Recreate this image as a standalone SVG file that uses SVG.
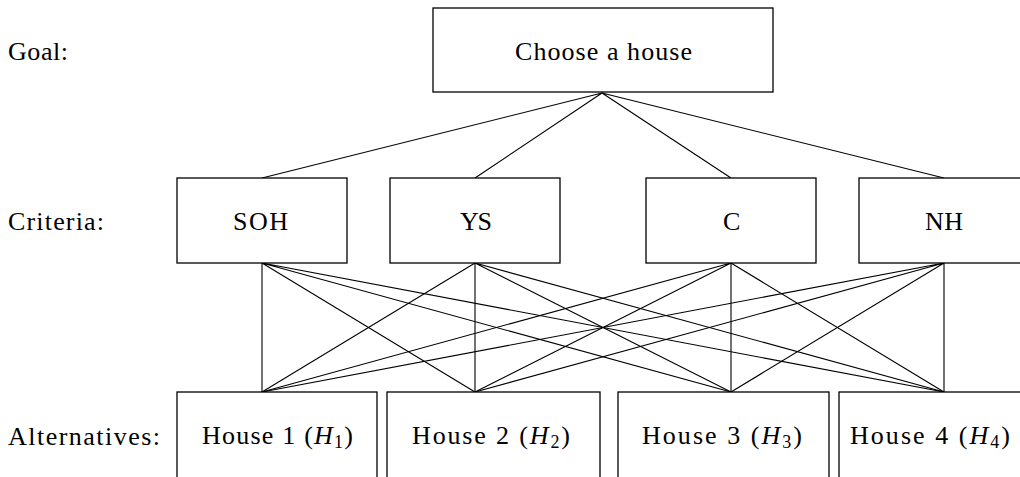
<svg xmlns="http://www.w3.org/2000/svg" width="1020" height="477" viewBox="0 0 1020 477">
  <style>
    .box { fill: #fff; stroke: #000; stroke-width: 1.3; }
    .edge { stroke: #000; stroke-width: 1.1; fill: none; }
    text { font-family: "Liberation Serif", "DejaVu Serif", serif; font-size: 26px; fill: #000; }
    .i { font-style: italic; }
    .sub { font-size: 18px; }
  </style>
  <rect width="1020" height="477" fill="#fff"/>

  <!-- level labels -->
  <g id="labels">
    <text x="8" y="60" textLength="60">Goal:</text>
    <text x="8" y="230" textLength="96">Criteria:</text>
    <text x="8" y="445" textLength="152">Alternatives:</text>
  </g>

  <!-- connectors -->
  <g id="connectors" class="edge">
    <!-- goal to criteria -->
    <path d="M602 93 L262 178 M602 93 L475 178 M602 93 L731 178 M602 93 L944 178"/>
    <!-- criteria to alternatives -->
    <path d="M262 263 L262 392 M262 263 L475 392 M262 263 L731 392 M262 263 L944 392"/>
    <path d="M475 263 L262 392 M475 263 L475 392 M475 263 L731 392 M475 263 L944 392"/>
    <path d="M731 263 L262 392 M731 263 L475 392 M731 263 L731 392 M731 263 L944 392"/>
    <path d="M944 263 L262 392 M944 263 L475 392 M944 263 L731 392 M944 263 L944 392"/>
  </g>

  <g id="goal">
    <rect class="box" x="433" y="8" width="340" height="84"/>
    <text x="515" y="60" textLength="177">Choose a house</text>
  </g>

  <g id="crit-soh">
    <rect class="box" x="177" y="178" width="170" height="85"/>
    <text x="233" y="230" textLength="55">SOH</text>
  </g>
  <g id="crit-ys">
    <rect class="box" x="390" y="178" width="170" height="85"/>
    <text x="460" y="230" textLength="32">YS</text>
  </g>
  <g id="crit-c">
    <rect class="box" x="646" y="178" width="170" height="85"/>
    <text x="723" y="230" textLength="17">C</text>
  </g>
  <g id="crit-nh">
    <rect class="box" x="859" y="178" width="170" height="85"/>
    <text x="925" y="230" textLength="38">NH</text>
  </g>

  <g id="alt-h1">
    <rect class="box" x="177" y="392" width="200" height="110"/>
    <text x="202" y="444" textLength="151">House 1 (<tspan class="i">H</tspan><tspan class="sub" dy="4">1</tspan><tspan dy="-4">)</tspan></text>
  </g>
  <g id="alt-h2">
    <rect class="box" x="387" y="392" width="213" height="110"/>
    <text x="412" y="444" textLength="158">House 2 (<tspan class="i">H</tspan><tspan class="sub" dy="4">2</tspan><tspan dy="-4">)</tspan></text>
  </g>
  <g id="alt-h3">
    <rect class="box" x="618" y="392" width="211" height="110"/>
    <text x="642" y="444" textLength="160">House 3 (<tspan class="i">H</tspan><tspan class="sub" dy="4">3</tspan><tspan dy="-4">)</tspan></text>
  </g>
  <g id="alt-h4">
    <rect class="box" x="839" y="392" width="200" height="110"/>
    <text x="850" y="444" textLength="160">House 4 (<tspan class="i">H</tspan><tspan class="sub" dy="4">4</tspan><tspan dy="-4">)</tspan></text>
  </g>
</svg>
